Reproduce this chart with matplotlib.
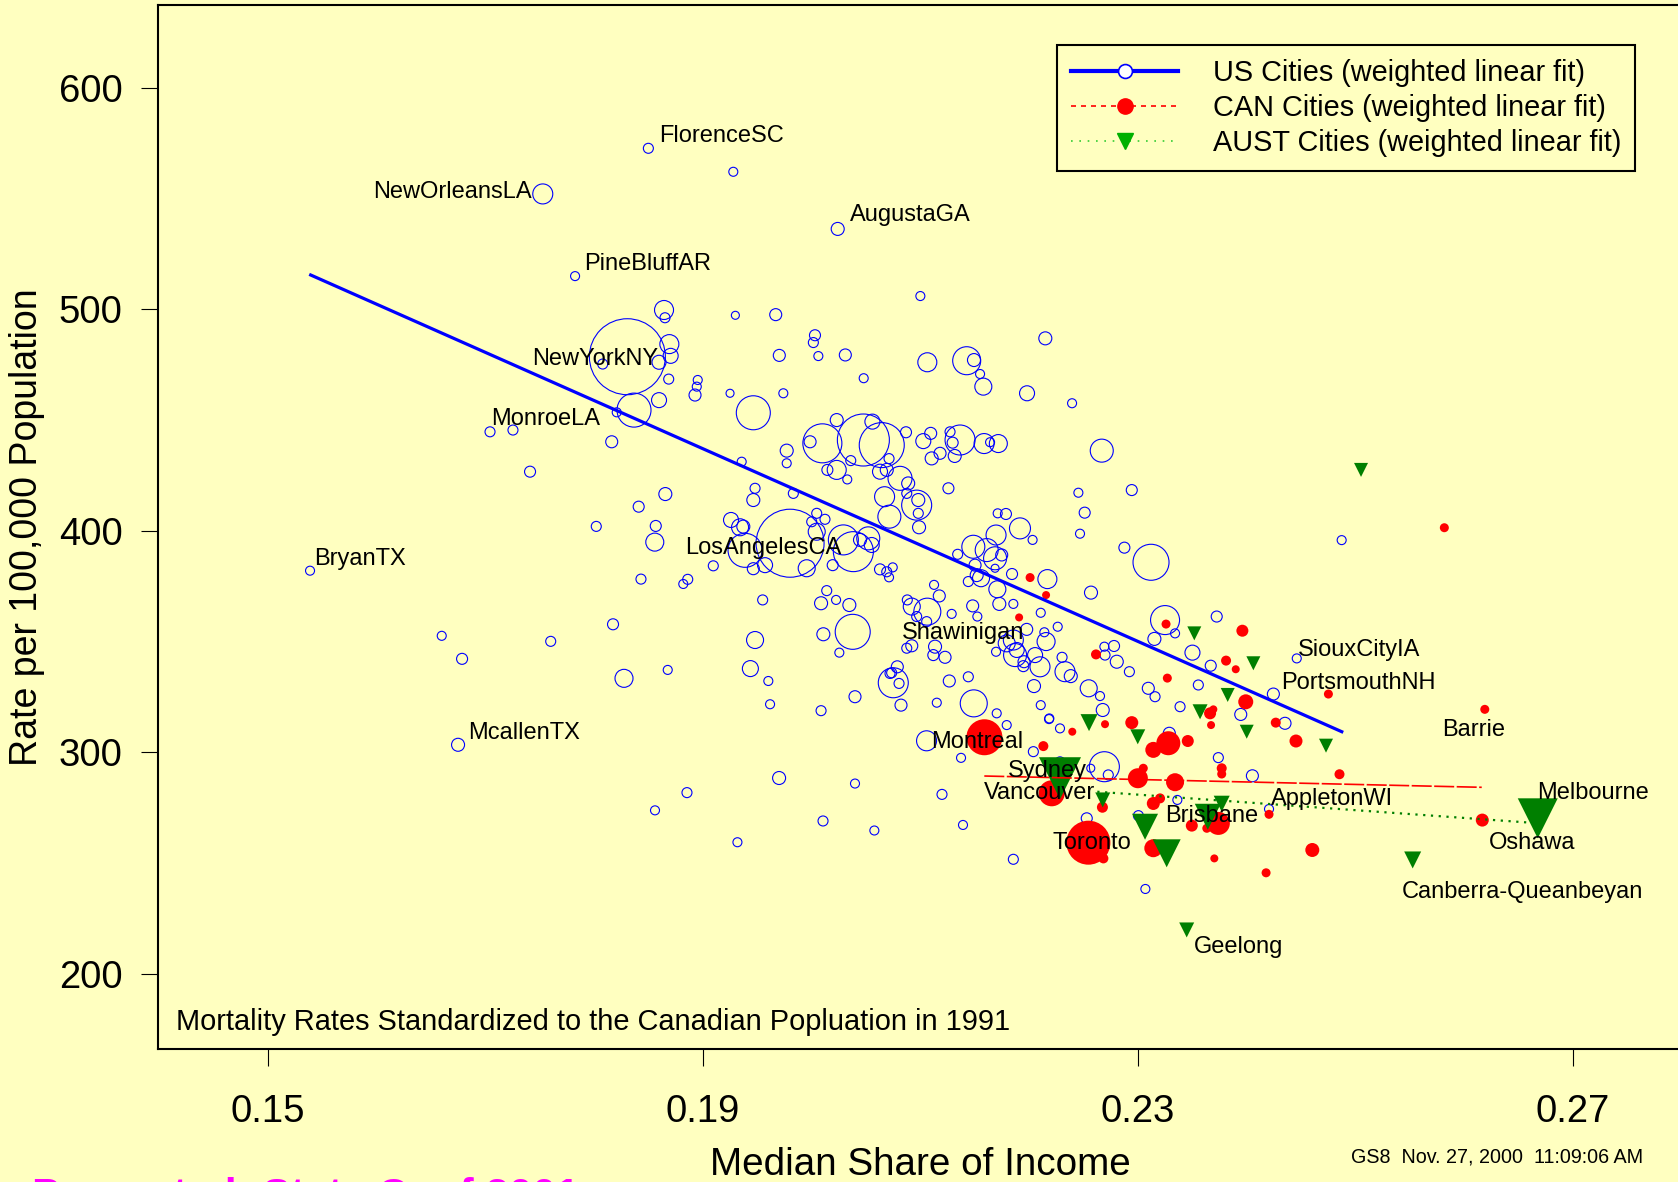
import matplotlib
matplotlib.use('Agg')
import matplotlib.pyplot as plt
from matplotlib.lines import Line2D
import numpy as np

DPI = 100
BG = '#ffffc0'

# US cities: median share of income, mortality rate, symbol radius (population weight, px)
us_x = [0.18502, 0.19283, 0.17531, 0.17828, 0.18646, 0.18655, 0.19302, 0.18309, 0.18695, 0.18707,
        0.18600, 0.18082, 0.18689, 0.18956, 0.18947, 0.18931, 0.19253, 0.18600, 0.18370, 0.18211,
        0.17046, 0.17257, 0.19467, 0.18165, 0.17414, 0.19360, 0.20243, 0.21003, 0.19673, 0.20034,
        0.20019, 0.19706, 0.20065, 0.20313, 0.20482, 0.21067, 0.21429, 0.21496, 0.21552, 0.21582,
        0.22152, 0.21984, 0.22398, 0.22671, 0.19743, 0.19774, 0.19774, 0.20102, 0.19989, 0.20234,
        0.20479, 0.20562, 0.20648, 0.20871, 0.21030, 0.21098, 0.21107, 0.21184, 0.21276, 0.21368,
        0.21300, 0.21319, 0.21589, 0.21720, 0.21644, 0.20234, 0.20148, 0.20363, 0.20715, 0.20632,
        0.20694, 0.20816, 0.15391, 0.18658, 0.18413, 0.18023, 0.18570, 0.18561, 0.19099, 0.18434,
        0.18864, 0.18823, 0.19262, 0.19345, 0.19467, 0.19483, 0.19467, 0.18177, 0.16602, 0.16789,
        0.17604, 0.18278, 0.18680, 0.19483, 0.19440, 0.16752, 0.18857, 0.18563, 0.19835, 0.20331,
        0.21261, 0.20674, 0.20891, 0.20969, 0.20984, 0.20878, 0.20718, 0.20991, 0.20984, 0.19805,
        0.19375, 0.19391, 0.20050, 0.20126, 0.20004, 0.20050, 0.19575, 0.19958, 0.20197, 0.20295,
        0.20387, 0.20524, 0.20556, 0.20448, 0.20632, 0.20694, 0.20749, 0.20715, 0.19553, 0.20142,
        0.20228, 0.20090, 0.20350, 0.20111, 0.20381, 0.20258, 0.19605, 0.19621, 0.20090, 0.20402,
        0.20754, 0.20791, 0.20739, 0.20807, 0.20825, 0.21129, 0.21177, 0.20883, 0.20924, 0.21067,
        0.20969, 0.21061, 0.21291, 0.20878, 0.20924, 0.21138, 0.21122, 0.21230, 0.21269, 0.21444,
        0.21154, 0.21494, 0.21484, 0.21527, 0.21444, 0.21521, 0.21561, 0.21346, 0.21490, 0.21613,
        0.21690, 0.21699, 0.21690, 0.21506, 0.21714, 0.21790, 0.21919, 0.22035, 0.21751, 0.21711,
        0.21729, 0.21846, 0.21858, 0.22171, 0.22110, 0.21981, 0.21858, 0.21797, 0.21889, 0.21874,
        0.21699, 0.21956, 0.21950, 0.22058, 0.22103, 0.22159, 0.22143, 0.22266, 0.22048, 0.22110,
        0.22189, 0.22306, 0.22333, 0.22386, 0.22551, 0.22655, 0.22680, 0.22456, 0.22514, 0.22471,
        0.22572, 0.22879, 0.22947, 0.23124, 0.22695, 0.22784, 0.22701, 0.22809, 0.22925, 0.23099,
        0.23161, 0.23155, 0.23253, 0.23345, 0.23505, 0.23391, 0.23559, 0.22287, 0.21797, 0.21705,
        0.24877, 0.23728, 0.23673, 0.24464, 0.24249, 0.23949, 0.24356, 0.23292, 0.23743, 0.24056,
        0.23366, 0.24209, 0.20724, 0.21060, 0.21377, 0.21202, 0.21395, 0.21858, 0.22042, 0.22186,
        0.22695, 0.22731, 0.22287, 0.22570, 0.22533, 0.23008, 0.23072, 0.19704, 0.20108, 0.20580,
        0.20402, 0.19321]
us_y = [572.7, 562.1, 552.1, 515.0, 499.7, 496.2, 497.3, 478.6, 484.3, 479.0,
        476.1, 475.3, 468.5, 468.1, 465.1, 461.3, 462.1, 459.0, 454.5, 453.5,
        444.7, 445.5, 453.3, 440.2, 426.7, 431.2, 536.3, 506.0, 497.6, 488.3,
        485.0, 479.2, 478.9, 479.4, 468.9, 476.1, 476.8, 477.1, 470.8, 465.1,
        486.9, 462.1, 457.6, 436.2, 462.1, 436.2, 430.5, 439.5, 440.2, 450.0,
        441.0, 449.3, 438.7, 444.5, 440.5, 444.0, 432.7, 435.0, 444.7, 441.0,
        439.8, 433.8, 439.4, 439.4, 440.0, 427.5, 427.5, 431.7, 432.6, 426.7,
        427.5, 423.7, 382.0, 416.6, 410.9, 402.0, 402.2, 394.9, 384.2, 378.2,
        378.1, 376.0, 404.9, 401.6, 413.9, 419.2, 382.9, 357.8, 352.6, 342.2,
        350.1, 333.4, 337.2, 350.7, 337.8, 303.4, 281.8, 273.8, 416.9, 423.2,
        419.2, 415.4, 421.4, 411.6, 413.9, 416.9, 406.4, 401.6, 407.9, 394.4,
        401.9, 391.2, 407.9, 405.2, 404.1, 399.6, 384.5, 383.1, 384.5, 395.9,
        390.6, 396.6, 393.6, 395.9, 382.6, 381.5, 383.5, 379.0, 368.8, 373.0,
        368.8, 367.3, 366.5, 353.3, 354.4, 345.0, 332.2, 321.7, 318.8, 325.1,
        331.4, 338.6, 335.9, 331.1, 321.3, 375.6, 370.6, 368.8, 365.8, 363.5,
        361.3, 359.0, 362.5, 347.0, 348.1, 347.7, 343.9, 342.9, 332.2, 334.1,
        322.4, 322.1, 366.1, 361.3, 377.1, 380.0, 378.6, 389.4, 392.8, 391.3,
        387.6, 398.1, 383.1, 384.5, 407.9, 407.6, 401.1, 395.9, 389.1, 373.6,
        367.0, 380.5, 367.0, 378.2, 363.0, 355.5, 350.7, 349.2, 346.2, 343.9,
        345.4, 340.9, 338.9, 343.9, 338.6, 350.0, 354.2, 356.7, 329.9, 321.3,
        315.3, 342.9, 336.4, 334.4, 328.9, 325.4, 319.1, 417.2, 408.2, 398.7,
        372.1, 392.4, 418.4, 385.8, 347.7, 348.0, 343.9, 340.9, 336.4, 328.9,
        325.1, 351.2, 359.7, 353.7, 345.0, 320.6, 330.4, 310.8, 312.3, 317.6,
        395.8, 361.3, 339.1, 342.4, 326.3, 317.1, 313.1, 308.6, 297.6, 289.4,
        278.5, 274.4, 335.6, 305.2, 297.5, 281.0, 267.2, 251.7, 300.3, 315.0,
        293.5, 289.8, 295.7, 292.8, 270.2, 271.4, 238.3, 288.4, 269.0, 264.7,
        285.9, 259.4]
us_size = [5, 4.5, 10, 4.5, 9.5, 5, 4, 38, 9.5, 7.5,
           7, 5, 5, 4.5, 4.5, 6, 4, 7.5, 17, 4.5,
           5, 5, 17, 6, 5.5, 4.5, 6.5, 4.5, 6, 5.5,
           5, 6, 4.5, 6, 4.5, 9.5, 14, 6.5, 4.5, 8.5,
           6.5, 7.5, 4.5, 11.5, 4.5, 6.5, 4.5, 19.5, 6, 6.5,
           26, 7.5, 22.5, 5.5, 7.5, 6, 6.5, 6, 5, 15,
           5.5, 6.5, 10, 9, 4.5, 9.5, 5.5, 5, 5, 7.5,
           6.5, 12, 4.5, 6.5, 5.5, 5, 5.5, 9, 5, 5,
           5, 4.5, 7.5, 8.5, 6.5, 5, 6, 5.5, 4.5, 5.5,
           5, 9, 4.5, 8.5, 8, 6.5, 5, 4.5, 5, 4.5,
           5.5, 10, 6.5, 15, 6.5, 5, 11.5, 6.5, 5, 34,
           6.5, 17, 5, 5, 5, 8.5, 7.5, 8.5, 5.5, 15,
           20, 11.5, 7.5, 6.5, 5.5, 5, 4.5, 4.5, 5, 5,
           4.5, 6.5, 6.5, 6.5, 17.5, 4.5, 4.5, 4.5, 5, 6,
           15, 6, 5, 5, 6, 4.5, 6, 5, 8.5, 13.5,
           5, 5, 4.5, 5, 6, 6.5, 5.5, 6, 6, 5,
           4.5, 13.5, 6, 4.5, 5, 6.5, 8.5, 5, 11.5, 11.5,
           11.5, 10, 4, 6, 4.5, 5.5, 10.5, 4.5, 6, 8.5,
           6.5, 5.5, 4.5, 9.5, 4.5, 6, 10, 8.5, 7.5, 11.5,
           4.5, 6, 5.5, 7.5, 10, 9, 4.5, 4.5, 6.5, 4.5,
           4.5, 5, 10, 6.5, 8.5, 4.5, 6.5, 4.5, 5.5, 4.5,
           6.5, 5.5, 5.5, 18, 4.5, 5.5, 5, 6.5, 5, 6,
           5, 6.5, 14.5, 4.5, 7.5, 5, 5, 4.5, 4.5, 4.5,
           4.5, 5.5, 5.5, 4.5, 6, 6, 6, 6, 5, 6,
           4.5, 4.5, 5, 10, 4.5, 5, 4.5, 5, 5, 4.5,
           15, 5, 5, 4, 5.5, 5, 4.5, 6.5, 5, 4.5,
           4.5, 4.5]

# Canadian cities
can_x = [0.22012, 0.22159, 0.21911, 0.22618, 0.23262, 0.23274, 0.22701, 0.22947, 0.21592, 0.22134,
         0.22400, 0.25821, 0.23964, 0.23814, 0.23903, 0.24755, 0.23995, 0.23697, 0.23667, 0.23676,
         0.24271, 0.24457, 0.26193, 0.23462, 0.23283, 0.23145, 0.23774, 0.23774, 0.24857, 0.23345,
         0.23145, 0.24209, 0.23743, 0.23499, 0.23637, 0.26170, 0.23145, 0.24607, 0.23706, 0.24182,
         0.23003, 0.23053, 0.22211, 0.22677, 0.23207, 0.22548, 0.22686]
can_y = [378.9, 371.0, 360.9, 344.2, 357.9, 333.5, 312.7, 313.4, 306.8, 302.8,
         309.3, 401.4, 354.9, 341.4, 337.5, 326.3, 322.8, 319.4, 317.6, 312.3,
         313.4, 305.1, 319.4, 305.1, 304.1, 301.1, 292.8, 290.2, 290.1, 286.5,
         276.9, 272.0, 267.9, 266.9, 265.7, 269.4, 256.7, 255.9, 252.1, 245.6,
         288.3, 292.8, 281.5, 275.2, 279.2, 259.2, 252.1]
can_size = [4.5, 4, 4, 5, 4.5, 4.5, 4, 6.5, 18, 5,
            4, 4.5, 6, 5, 4, 4.5, 7.5, 4, 6, 4,
            5, 6.5, 4.5, 6, 12, 8, 5, 4.5, 5, 9,
            6.5, 4.5, 11.5, 6, 4.5, 6.5, 9, 7, 4, 4.5,
            10, 4.5, 13, 5.5, 5, 22, 5]

# Australian cities
aust_x = [0.25055, 0.23522, 0.24065, 0.23829, 0.23575, 0.24004, 0.24733, 0.25530, 0.26680,
          0.23268, 0.23646, 0.23774, 0.23069, 0.23452, 0.22554, 0.23002, 0.22287, 0.22680]
aust_y = [427.5, 353.7, 340.2, 325.9, 318.3, 309.3, 303.0, 251.4, 270.2,
          254.4, 270.9, 276.8, 266.4, 219.8, 313.4, 307.0, 288.3, 278.5]
aust_size = [7, 7, 7, 7, 7.5, 7, 7, 8.5, 20,
             14, 13, 8, 13, 7.5, 8.5, 7.5, 21, 7.5]

# weighted linear fits (end points)
us_fit_x = [0.15397, 0.24878]
us_fit_y = [515.5, 309.3]
can_fit_x = [0.21591, 0.26165]
can_fit_y = [289.3, 284.2]
aust_fit_x = [0.2263, 0.2668]
aust_fit_y = [282.2, 268.0]

label_text = ['FlorenceSC', 'NewOrleansLA', 'AugustaGA', 'PineBluffAR', 'NewYorkNY', 'MonroeLA',
              'BryanTX', 'LosAngelesCA', 'Shawinigan', 'McallenTX', 'Montreal', 'Sydney',
              'Vancouver', 'Toronto', 'Brisbane', 'AppletonWI', 'SiouxCityIA', 'PortsmouthNH',
              'Barrie', 'Melbourne', 'Oshawa', 'Canberra-Queanbeyan', 'Geelong']
label_x = [0.18602, 0.15975, 0.20354, 0.17913, 0.17431, 0.17060, 0.15433, 0.18838, 0.20836,
           0.16841, 0.21102, 0.21810, 0.21584, 0.22214, 0.23257, 0.24230, 0.24476, 0.24320,
           0.25805, 0.26672, 0.26229, 0.25431, 0.23522]
label_y = [578.2, 553.1, 542.5, 520.3, 477.7, 450.7, 387.4, 392.2, 354.0, 308.7, 304.8, 291.7,
           281.6, 258.9, 271.4, 278.7, 346.3, 331.4, 310.1, 281.6, 258.9, 237.1, 212.0]

legend_labels = ['US Cities (weighted linear fit)', 'CAN Cities (weighted linear fit)',
                 'AUST Cities (weighted linear fit)']
x_ticks = [0.15, 0.19, 0.23, 0.27]
y_ticks = [200, 300, 400, 500, 600]

plt.rcParams['font.family'] = ['Liberation Sans', 'DejaVu Sans']

fig = plt.figure(figsize=(16.78, 11.82), dpi=DPI, facecolor=BG)
ax = fig.add_axes([158 / 1678, 133 / 1182, 1522 / 1678, 1044 / 1182])
ax.set_facecolor(BG)


def area(r):
    # radius in pixels -> scatter marker area in points^2
    return (2 * np.asarray(r) * 72 / DPI) ** 2


ax.scatter(us_x, us_y, s=area(us_size), facecolors='none', edgecolors='blue',
           linewidths=0.8, zorder=2)
ax.scatter(can_x, can_y, s=area(can_size), c='red', linewidths=0, zorder=3)
ax.scatter(aust_x, aust_y, s=area(aust_size), c='#007f00', marker='v', linewidths=0, zorder=4)

ax.plot(us_fit_x, us_fit_y, color='blue', lw=2.3, zorder=5)
ax.plot(can_fit_x, can_fit_y, color='red', lw=1.2, ls=(0, (12, 1.5)), zorder=5)
ax.plot(aust_fit_x, aust_fit_y, color='#007f00', lw=1.6, ls=(0, (1, 2.5)), zorder=5)

for t, lx, ly in zip(label_text, label_x, label_y):
    ax.text(lx, ly, t, fontsize=17, ha='left', va='center', zorder=6)

ax.set_xlim(0.13993, 0.27988)
ax.set_ylim(166.05, 637.4)
ax.set_xticks(x_ticks)
ax.set_xticklabels(['%.2f' % v for v in x_ticks])
ax.set_yticks(y_ticks)
ax.set_yticklabels([str(v) for v in y_ticks])
ax.tick_params(axis='both', length=12.5, width=0.8, labelsize=27.5)
ax.tick_params(axis='x', pad=20)
ax.tick_params(axis='y', pad=13)
for side in ['left', 'bottom', 'top']:
    ax.spines[side].set_linewidth(1.5)
ax.spines['right'].set_visible(False)

handles = [
    Line2D([], [], color='blue', lw=3, marker='o', ms=10, mfc='white', mec='blue', mew=1.2),
    Line2D([], [], color='red', lw=1.2, ls=(0, (3, 3)), marker='o', ms=11, mfc='red', mec='red'),
    Line2D([], [], color='#33cc33', lw=1.2, ls=(0, (1, 4)), marker='v', ms=11,
           mfc='#00b000', mec='#00b000'),
]
leg = ax.legend(handles, legend_labels, loc='upper right',
                bbox_to_anchor=(1635 / 1678, 1 - 45 / 1182), bbox_transform=fig.transFigure,
                fontsize=20.8, frameon=True, fancybox=False, edgecolor='black', facecolor=BG,
                framealpha=1, borderpad=0.48, labelspacing=0.24, handlelength=3.7,
                handletextpad=1.2, borderaxespad=0)
leg.get_frame().set_linewidth(1.5)
leg.set_zorder(7)

ax.text(0.0115, 0.0256, 'Mortality Rates Standardized to the Canadian Popluation in 1991',
        transform=ax.transAxes, fontsize=20.9, ha='left', va='center')

fig.text(920 / 1678, 1 - 1165 / 1182, 'Median Share of Income', fontsize=27.8,
         ha='center', va='center')
fig.text(27 / 1678, 1 - 527.6 / 1182, 'Rate per 100,000 Population', fontsize=27,
         rotation=90, ha='center', va='center')
fig.text(1642.8 / 1678, 1 - 1157 / 1182, 'GS8  Nov. 27, 2000  11:09:06 AM', fontsize=14.2,
         ha='right', va='center')
fig.text(32 / 1678, 1 - 1208 / 1182, 'Presented: State Conf 2001', color='magenta',
         fontsize=30.4, fontweight='bold', ha='left', va='baseline')

fig.savefig('out.png', dpi=DPI, facecolor=BG)
